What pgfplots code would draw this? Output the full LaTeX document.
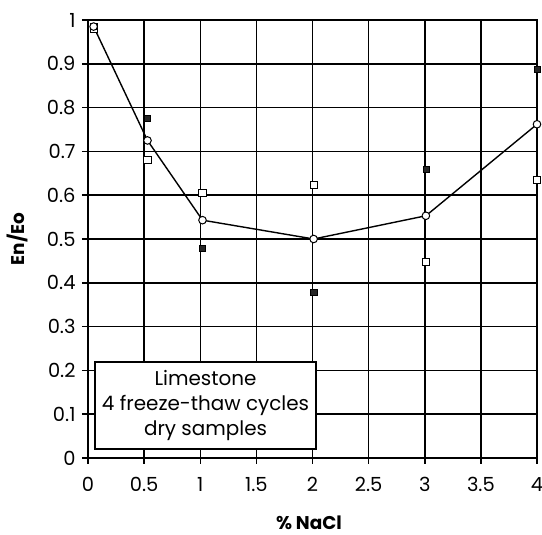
\documentclass[border=0pt]{standalone}
\usepackage{pgfplots}
\pgfplotsset{compat=1.18}
\usepackage{fontspec}
\setmainfont{Poppins}
\begin{document}
\begin{tikzpicture}
\useasboundingbox (0,0) rectangle (542bp,535bp);
\begin{axis}[
  at={(88bp,77bp)}, anchor=south west,
  scale only axis, width=449bp, height=438bp,
  xmin=0, xmax=4, ymin=0, ymax=1,
  xtick distance=0.5, ytick distance=0.1,
  xtick pos=bottom, ytick pos=left,
  tick align=outside, major tick length=6bp,
  grid=major,
  grid style={black, line width=1.5bp},
  axis line style={black, line width=1.5bp},
  tick style={black, line width=1.5bp},
  /pgf/number format/assume math mode=true,
  ticklabel style={font=\fontsize{19.5}{21}\selectfont},
  xticklabel style={yshift=-10bp},
  yticklabel style={xshift=-3bp},
  xlabel={\textbf{\% NaCl}}, ylabel={\textbf{En/Eo}},
  label style={font=\fontsize{18.5}{20}\selectfont, inner sep=1bp},
  xlabel style={at={(axis description cs:0.492,-0.148)}, anchor=center},
  ylabel style={at={(axis description cs:-0.158,0.5)}, anchor=center},
  clip=false,
]
\addplot[only marks, mark=square*, mark size=3.6bp, mark options={fill=white, draw=black, line width=1bp}]
  coordinates {(0.05,0.98) (0.53,0.68) (1.02,0.605) (2.01,0.623) (3.01,0.448) (4.0,0.635)};
\addplot[only marks, mark=square*, mark size=3.1bp, mark options={fill=black!85, draw=black}]
  coordinates {(0.05,0.985) (0.53,0.775) (1.02,0.479) (2.01,0.379) (3.01,0.659) (4.0,0.888)};
\addplot[black, line width=1.4bp, mark=*, mark size=3.8bp, mark options={fill=white, draw=black, line width=1bp}]
  coordinates {(0.05,0.985) (0.53,0.725) (1.02,0.543) (2.01,0.50) (3.01,0.553) (4.0,0.762)};
\node[draw=black, fill=white, line width=1.4bp, align=center, minimum width=221bp, minimum height=87bp,
  inner sep=0pt, font=\fontsize{20}{25}\selectfont] at (axis cs:1.047,0.12)
  {Limestone\\4 freeze-thaw cycles\\dry samples};
\end{axis}
\end{tikzpicture}
\end{document}
